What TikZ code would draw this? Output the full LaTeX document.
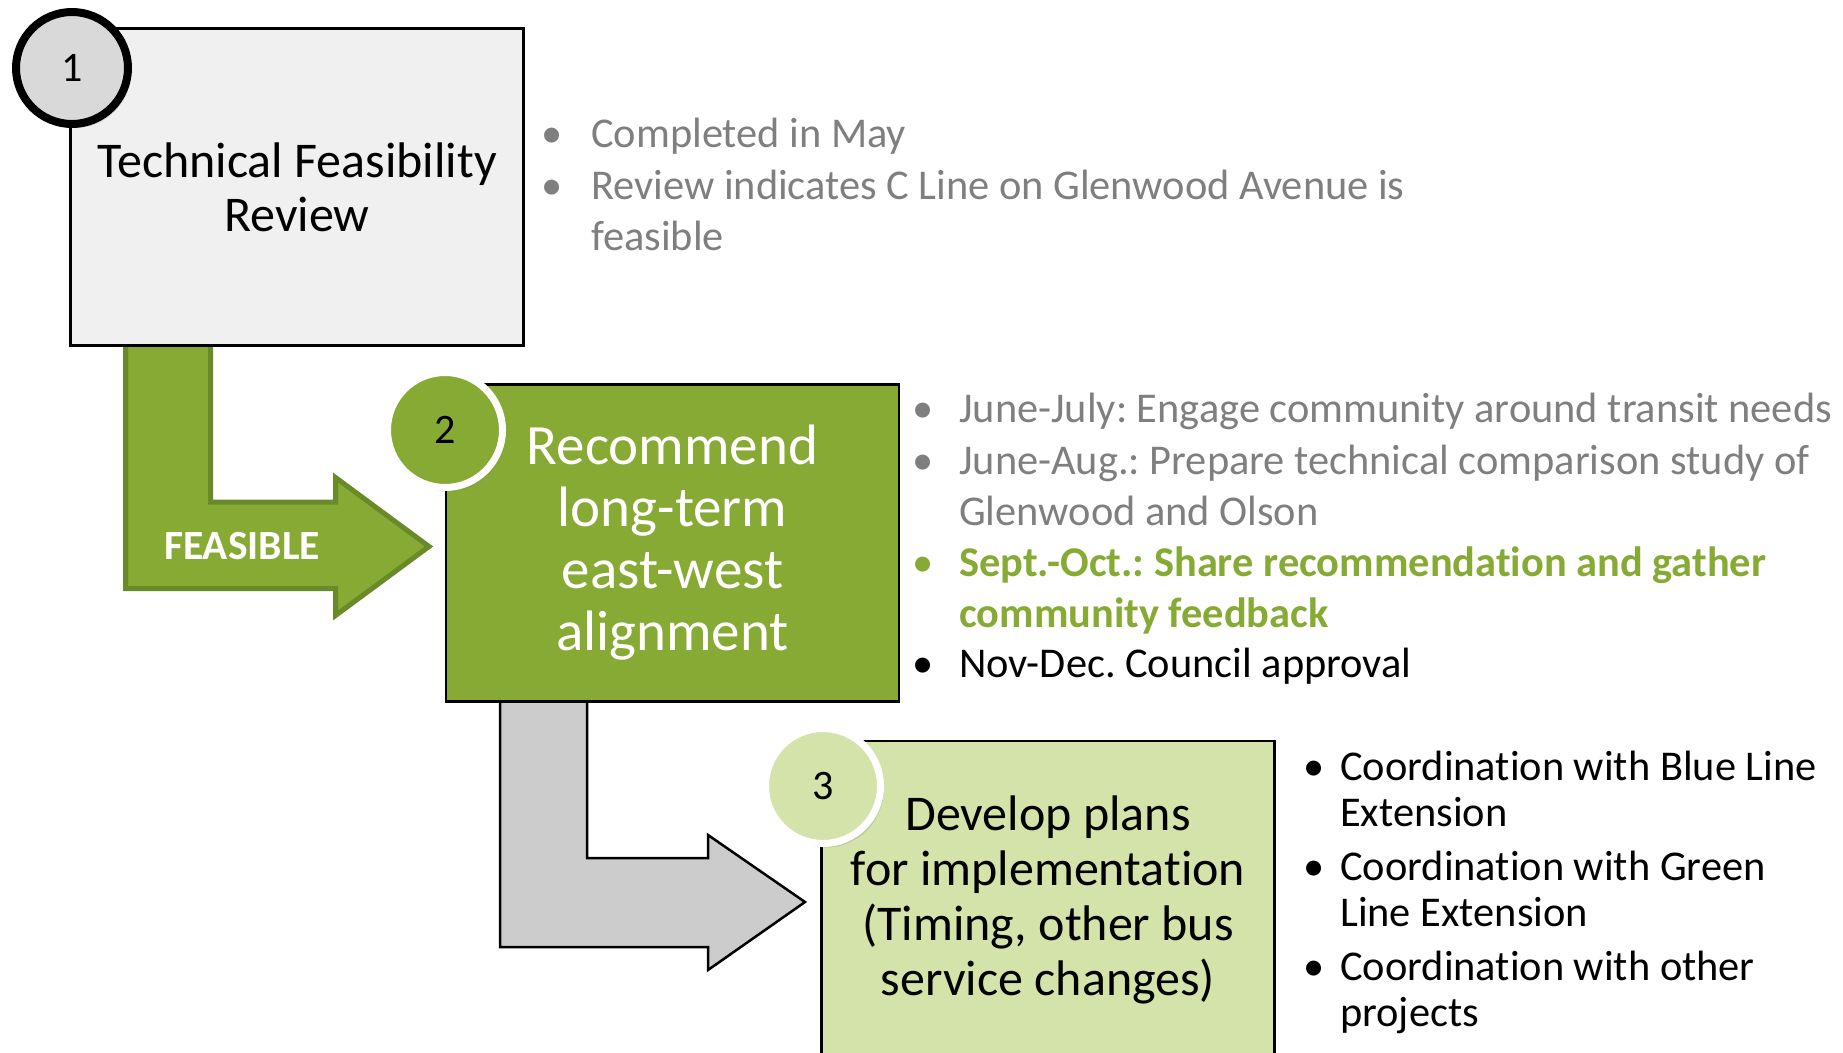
\documentclass[tikz,border=0pt]{standalone}
\usepackage{fontspec}
\setmainfont{Carlito}[Ligatures={NoCommon}]
\usetikzlibrary{shadows}
\frenchspacing

\definecolor{olive}{RGB}{134,170,52}
\definecolor{darkolive}{RGB}{104,138,40}
\definecolor{palegreen}{RGB}{211,227,169}
\definecolor{paper}{RGB}{240,240,240}
\definecolor{disc}{RGB}{217,217,217}
\definecolor{arrowgray}{RGB}{204,204,204}
\definecolor{notegray}{RGB}{127,127,127}

\tikzset{
  stage/.style={draw=black, line width=2.5pt, minimum width=453pt, minimum height=317pt, inner sep=0pt, align=center},
  badge/.style={circle, inner sep=0pt, font=\fontsize{42}{42}\selectfont,
    drop shadow={opacity=0.25, shadow xshift=3pt, shadow yshift=-4pt}},
  noteline/.style={anchor=base west, align=left, inner sep=0pt, font=\fontsize{42.4}{51}\selectfont},
  bulletmark/.style={anchor=base, inner sep=0pt, font=\fontsize{42.4}{51}\selectfont},
}

\begin{document}
\begin{tikzpicture}[x=1pt,y=-1pt]
    \useasboundingbox (0,0) rectangle (1843,1052);

    % block arrows
    \draw[draw=darkolive,fill=olive,line width=5pt,line join=miter]
      (125.5,340) -- (125.5,588.5) -- (335.5,588.5) -- (335.5,615.5) -- (429,546.5)
      -- (335.5,477.5) -- (335.5,502) -- (210.5,502) -- (210.5,340) -- cycle;
    \draw[draw=black,fill=arrowgray,line width=2.5pt,line join=miter]
      (500,698) -- (500,947) -- (708,947) -- (708,970) -- (805,902)
      -- (708,835) -- (708,858) -- (587,858) -- (587,698) -- cycle;
    \node[text=white,font=\fontsize{41.5}{41.5}\selectfont\bfseries] (feasible) at (242,546) {FEASIBLE};

    % the three stages
    \node[stage,fill=paper,font=\fontsize{50}{54}\selectfont] (box1) at (297,187)
      {Technical Feasibility\\Review};
    \node[stage,fill=olive,text=white,font=\fontsize{57}{62}\selectfont] (box2) at (672.5,543)
      {Recommend\\long-term\\east-west\\alignment};
    \node[stage,fill=palegreen,font=\fontsize{50}{55}\selectfont] (box3) at (1048,899.5)
      {Develop plans\\for implementation\\(Timing, other bus\\service changes)};

    \node[badge,fill=disc,draw=black,line width=8pt,minimum size=112pt] (num1) at (72,68) {1};
    \node[badge,fill=olive,draw=white,line width=7pt,minimum size=115pt] (num2) at (445,430) {2};
    \node[badge,fill=palegreen,draw=white,line width=7pt,minimum size=115pt] (num3) at (823,786) {3};

    % notes for stage 1 (a node of two lines sits on its last baseline)
    \node[bulletmark,text=notegray] (b11) at (552,147) {\textbullet};
    \node[noteline,text=notegray] (n11) at (591,147) {Completed in May};
    \node[bulletmark,text=notegray] (b12) at (552,199) {\textbullet};
    \node[noteline,text=notegray] (n12) at (591,250) {Review indicates C Line on Glenwood Avenue is\\feasible};

    % notes for stage 2
    \node[bulletmark,text=notegray] (b21) at (923,422) {\textbullet};
    \node[noteline,text=notegray] (n21) at (959,422) {June-July: Engage community around transit needs};
    \node[bulletmark,text=notegray] (b22) at (923,474) {\textbullet};
    \node[noteline,text=notegray] (n22) at (959,525) {June-Aug.: Prepare technical comparison study of\\Glenwood and Olson};
    \node[bulletmark,text=olive] (b23) at (923,576) {\textbullet};
    \node[noteline,text=olive,font=\fontsize{42.4}{51}\selectfont\bfseries] (n23) at (959,627) {Sept.-Oct.: Share recommendation and gather\\community feedback};
    \node[bulletmark] (b24) at (923,677) {\textbullet};
    \node[noteline] (n24) at (959,677) {Nov-Dec. Council approval};

    % notes for stage 3
    \node[bulletmark,font=\fontsize{42.4}{46}\selectfont] (b31) at (1314,780) {\textbullet};
    \node[noteline,font=\fontsize{42.4}{46}\selectfont] (n31) at (1340,826) {Coordination with Blue Line\\Extension};
    \node[bulletmark,font=\fontsize{42.4}{46}\selectfont] (b32) at (1314,880) {\textbullet};
    \node[noteline,font=\fontsize{42.4}{46}\selectfont] (n32) at (1340,926) {Coordination with Green\\Line Extension};
    \node[bulletmark,font=\fontsize{42.4}{46}\selectfont] (b33) at (1314,980) {\textbullet};
    \node[noteline,font=\fontsize{42.4}{46}\selectfont] (n33) at (1340,1026) {Coordination with other\\projects};
\end{tikzpicture}
\end{document}
